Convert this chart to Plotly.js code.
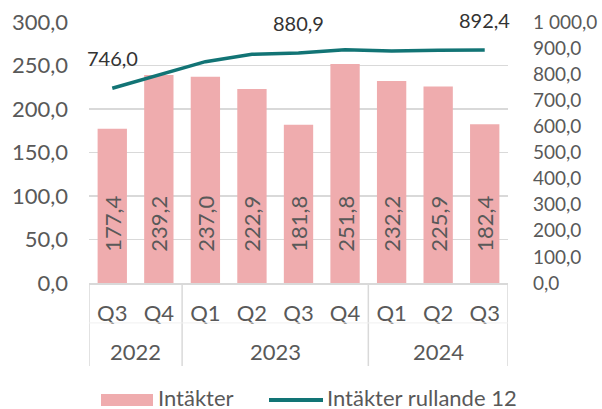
<!DOCTYPE html>
<html><head><meta charset="utf-8">
<script src="https://cdn.plot.ly/plotly-3.0.1.min.js"></script>
<style>html,body{margin:0;padding:0;background:#fff}#chart{width:602px;height:409px}</style>
</head><body><div id="chart"></div>
<script>
const years = ["2022","2022","2023","2023","2023","2023","2024","2024","2024"];
const quarters = ["Q3","Q4","Q1","Q2","Q3","Q4","Q1","Q2","Q3"];
const revenue = [177.4, 239.2, 237.0, 222.9, 181.8, 251.8, 232.2, 225.9, 182.4];
const rolling12 = [746.0, 797.0, 848.0, 876.5, 880.9, 893.5, 888.7, 891.7, 892.4];
const labelIdx = [0, 4, 8];
const seriesNames = ["Intäkter", "Intäkter rullande 12"];

const fmt = v => v.toFixed(1).replace('.', ',');
const FONT = "Lato, 'Open Sans', sans-serif";
const idx = quarters.map((q, i) => i);
const NB = '\u00a0';
const BAR_COLOR = '#EFACAE', LINE_COLOR = '#127475';

// plot-area geometry (pixels) for placing the hand-drawn legend
const M = {l: 89, r: 94, t: 22, b: 126};
const PW = 602 - M.l - M.r, PH = 409 - M.t - M.b;
const px = p => (p - M.l) / PW;
const py = p => (409 - M.b - p) / PH;

// year groups
const groups = [];
years.forEach((y, i) => {
  const g = groups.length ? groups[groups.length - 1] : null;
  if (g && g.year === y) g.end = i; else groups.push({year: y, start: i, end: i});
});

const traces = [
  {
    type: 'bar', name: seriesNames[0], x: idx, y: revenue,
    marker: {color: BAR_COLOR},
    texttemplate: NB.repeat(5) + '%{y:.1f}', textposition: 'inside', insidetextanchor: 'start',
    textangle: -90, constraintext: 'none',
    insidetextfont: {family: FONT, size: 22, color: '#595959'},
    hoverinfo: 'skip'
  },
  {
    type: 'scatter', mode: 'lines', name: seriesNames[1], x: idx, y: rolling12,
    yaxis: 'y2', line: {color: LINE_COLOR, width: 3.5}, hoverinfo: 'skip'
  }
];

const legendFont = {family: FONT, size: 22, color: '#595959'};
const annotations = labelIdx.map(i => ({
  x: i, y: rolling12[i], xref: 'x', yref: 'y2', text: fmt(rolling12[i]),
  showarrow: false, yshift: 30, font: {family: FONT, size: 20, color: '#333333'}
})).concat(groups.map(g => ({
  x: (g.start + g.end) / 2, y: -0.263, xref: 'x', yref: 'paper', yanchor: 'middle',
  text: g.year, showarrow: false, font: {family: FONT, size: 22, color: '#595959'}
}))).concat([
  {xref: 'paper', yref: 'paper', x: px(156), y: py(397), xanchor: 'left', yanchor: 'middle',
   text: seriesNames[0], showarrow: false, font: legendFont},
  {xref: 'paper', yref: 'paper', x: px(325), y: py(397), xanchor: 'left', yanchor: 'middle',
   text: seriesNames[1], showarrow: false, font: legendFont}
]);

const divX = [-0.5].concat(groups.map(g => g.end + 0.5));
const shapes = divX.map(x => ({
  type: 'line', xref: 'x', yref: 'paper', x0: x, x1: x, y0: 0, y1: -0.318,
  line: {color: '#d9d9d9', width: 1.5}
})).concat([{
  type: 'line', xref: 'x', yref: 'paper', x0: -0.5, x1: 8.5, y0: -0.153, y1: -0.153,
  line: {color: '#f0f0f0', width: 1}
},
  // legend swatches
  {type: 'rect', xref: 'paper', yref: 'paper', x0: px(101), x1: px(153), y0: py(394), y1: py(406),
   fillcolor: BAR_COLOR, line: {width: 0}},
  {type: 'line', xref: 'paper', yref: 'paper', x0: px(269), x1: px(323), y0: py(400), y1: py(400),
   line: {color: LINE_COLOR, width: 4}}
]);

const layout = {
  width: 602, height: 409,
  margin: {l: M.l, r: M.r, t: M.t, b: M.b, autoexpand: false},
  paper_bgcolor: '#fff', plot_bgcolor: '#fff',
  separators: ', ',
  font: {family: FONT, size: 22, color: '#595959'},
  bargap: 0.37,
  showlegend: false,
  xaxis: {range: [-0.5, 8.5], tickvals: idx, ticktext: quarters, showline: true, linecolor: '#d9d9d9', linewidth: 1.5,
          showgrid: false, zeroline: false, automargin: false,
          tickfont: {family: FONT, size: 22, color: '#595959'}, ticks: '', ticklabelstandoff: 10},
  yaxis: {range: [0, 300], dtick: 50, tickformat: '.1f', showgrid: true, gridcolor: '#d9d9d9', gridwidth: 1.5,
          zeroline: false, automargin: false, tickfont: {family: FONT, size: 22, color: '#595959'}, ticks: '', ticklabelstandoff: 20},
  yaxis2: {range: [0, 1000], dtick: 100, tickformat: ',.1f', overlaying: 'y', side: 'right', showgrid: false,
           zeroline: false, automargin: false, tickfont: {family: FONT, size: 19, color: '#595959'}, ticks: '', ticklabelstandoff: 24},
  annotations: annotations,
  shapes: shapes
};

Plotly.newPlot('chart', traces, layout, {displayModeBar: false, staticPlot: true});
</script></body></html>
